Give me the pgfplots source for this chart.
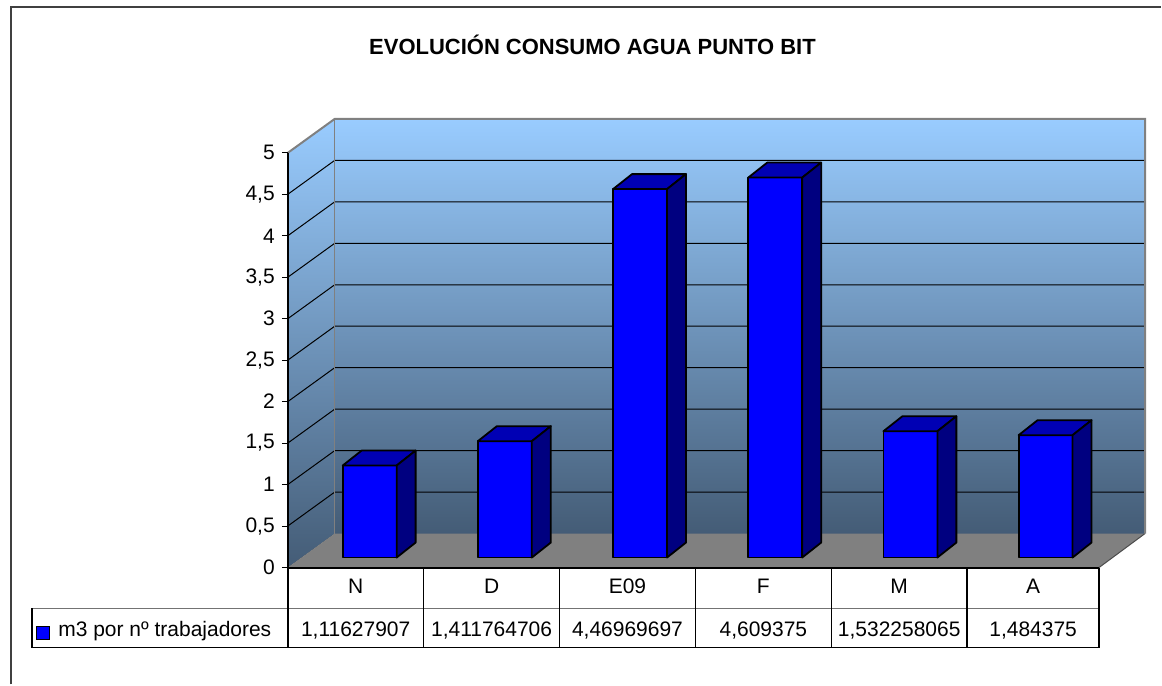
\documentclass[border=0pt]{standalone}
\usepackage{pgfplots}
\pgfplotsset{compat=1.18}
\usepackage{pgfplotstable}
\usepackage{fontspec}
\setmainfont{Liberation Sans}
\definecolor{barfront}{RGB}{0,0,255}
\definecolor{bartop}{RGB}{0,0,180}
\definecolor{barside}{RGB}{0,0,128}
\definecolor{walltop}{RGB}{153,204,255}
\definecolor{wallbot}{RGB}{68,92,118}
\definecolor{floorgray}{RGB}{128,128,128}

\pgfplotstableread{
cat v
N 1.11627907
D 1.411764706
E09 4.46969697
F 4.609375
M 1.532258065
A 1.484375
}\datatable

\begin{document}
\begin{tikzpicture}
\begin{axis}[scale only axis, width=581pt, height=342.5pt,
  xmin=0, xmax=1162, ymin=0, ymax=685, y dir=reverse,
  hide axis, clip=false]
\path (axis cs:0,0) rectangle (axis cs:1162,685);
% outer frame
\draw[line width=1pt, black!75] (axis cs:11,685) -- (axis cs:11,7) -- (axis cs:1162,7);
% title
\node[font=\bfseries\fontsize{11}{13}\selectfont] at (axis cs:593,45) {EVOLUCIÓN CONSUMO AGUA PUNTO BIT};
% back wall
\fill[top color=walltop, bottom color=wallbot] (axis cs:335,119) rectangle (axis cs:1146,534);
% left wall
\fill[top color=walltop, bottom color=wallbot] (axis cs:288,153) -- (axis cs:335,119) -- (axis cs:335,534) -- (axis cs:288,568) -- cycle;
% gridlines
\pgfplotsinvokeforeach{1,...,9}{
  \draw[black, line width=0.5pt] (axis cs:288,{568-41.5*#1}) -- (axis cs:335,{534-41.5*#1}) -- (axis cs:1146,{534-41.5*#1});
}
% floor
\fill[floorgray] (axis cs:288,568) -- (axis cs:1100,568) -- (axis cs:1146,534) -- (axis cs:335,534) -- cycle;
\draw[black!70, line width=0.5pt] (axis cs:1100,568) -- (axis cs:1146,534);
% wall edges
\draw[gray, line width=1pt] (axis cs:288,153) -- (axis cs:335,119) -- (axis cs:1146,119) -- (axis cs:1146,534);
\draw[gray, line width=0.75pt] (axis cs:335,119) -- (axis cs:335,534);
\coordinate (frontorigin) at (axis cs:288,568);
% bars
\pgfplotsinvokeforeach{0,...,5}{
  \pgfplotstablegetelem{#1}{v}\of\datatable
  \pgfmathsetmacro{\cx}{370+135.3*#1}
  \pgfmathsetmacro{\xl}{\cx-27}
  \pgfmathsetmacro{\xr}{\cx+27}
  \pgfmathsetmacro{\xrr}{\cx+46}
  \pgfmathsetmacro{\xll}{\cx-8}
  \pgfmathsetmacro{\yt}{558-82.5*\pgfplotsretval}
  \pgfmathsetmacro{\ytt}{\yt-15}
  \edef\doplot{%
    \noexpand\addplot[fill=barfront, draw=black, line width=0.9pt, line join=round] coordinates {(\xl,558) (\xl,\yt) (\xr,\yt) (\xr,558)} -- cycle;
    \noexpand\addplot[fill=bartop, draw=black, line width=0.9pt, line join=round] coordinates {(\xl,\yt) (\xll,\ytt) (\xrr,\ytt) (\xr,\yt)} -- cycle;
    \noexpand\addplot[fill=barside, draw=black, line width=0.9pt, line join=round] coordinates {(\xr,558) (\xrr,543) (\xrr,\ytt) (\xr,\yt)} -- cycle;
  }%
  \doplot
}
% data table
\draw[black!55, line width=0.75pt] (axis cs:32,609) -- (axis cs:1100,609);
\draw[black, line width=0.75pt] (axis cs:32,609) -- (axis cs:32,648) -- (axis cs:1100,648) -- (axis cs:1100,568);
\draw[black, line width=1pt] (axis cs:288,568) -- (axis cs:1100,568);
\pgfplotsinvokeforeach{288,424,560,696,832,968}{
  \draw[black, line width=0.75pt] (axis cs:#1,568) -- (axis cs:#1,648);
}
\fill[barfront, draw=black, line width=0.5pt] (axis cs:37,627) rectangle (axis cs:50,640);
\node[anchor=base west, inner sep=0pt, font=\fontsize{10.5}{12}\selectfont] at (axis cs:58,637) {m3 por nº trabajadores};
\node[anchor=base, inner sep=0pt, font=\fontsize{10.5}{12}\selectfont] at (axis cs:356,594) {N};
\node[anchor=base, inner sep=0pt, font=\fontsize{10.5}{12}\selectfont] at (axis cs:492,594) {D};
\node[anchor=base, inner sep=0pt, font=\fontsize{10.5}{12}\selectfont] at (axis cs:628,594) {E09};
\node[anchor=base, inner sep=0pt, font=\fontsize{10.5}{12}\selectfont] at (axis cs:764,594) {F};
\node[anchor=base, inner sep=0pt, font=\fontsize{10.5}{12}\selectfont] at (axis cs:900,594) {M};
\node[anchor=base, inner sep=0pt, font=\fontsize{10.5}{12}\selectfont] at (axis cs:1034,594) {A};
\node[anchor=base, inner sep=0pt, font=\fontsize{10.5}{12}\selectfont] at (axis cs:356,637) {1,11627907};
\node[anchor=base, inner sep=0pt, font=\fontsize{10.5}{12}\selectfont] at (axis cs:492,637) {1,411764706};
\node[anchor=base, inner sep=0pt, font=\fontsize{10.5}{12}\selectfont] at (axis cs:628,637) {4,46969697};
\node[anchor=base, inner sep=0pt, font=\fontsize{10.5}{12}\selectfont] at (axis cs:764,637) {4,609375};
\node[anchor=base, inner sep=0pt, font=\fontsize{10.5}{12}\selectfont] at (axis cs:900,637) {1,532258065};
\node[anchor=base, inner sep=0pt, font=\fontsize{10.5}{12}\selectfont] at (axis cs:1034,637) {1,484375};
\end{axis}
\begin{axis}[at={(frontorigin)}, anchor=south west, scale only axis,
  width=406pt, height=207.5pt, xmin=0, xmax=1, ymin=0, ymax=5,
  axis x line=none, axis y line*=left,
  ytick={0,0.5,1,1.5,2,2.5,3,3.5,4,4.5,5},
  tick align=outside, major tick length=3pt,
  y axis line style={black, line width=0.75pt},
  ytick style={black, line width=0.5pt},
  yticklabel style={font=\fontsize{10.5}{12}\selectfont},
  /pgf/number format/use comma,
  /pgf/number format/assume math mode=true]
\addplot[draw=none] coordinates {(0,0)};
\end{axis}
\end{tikzpicture}
\end{document}
